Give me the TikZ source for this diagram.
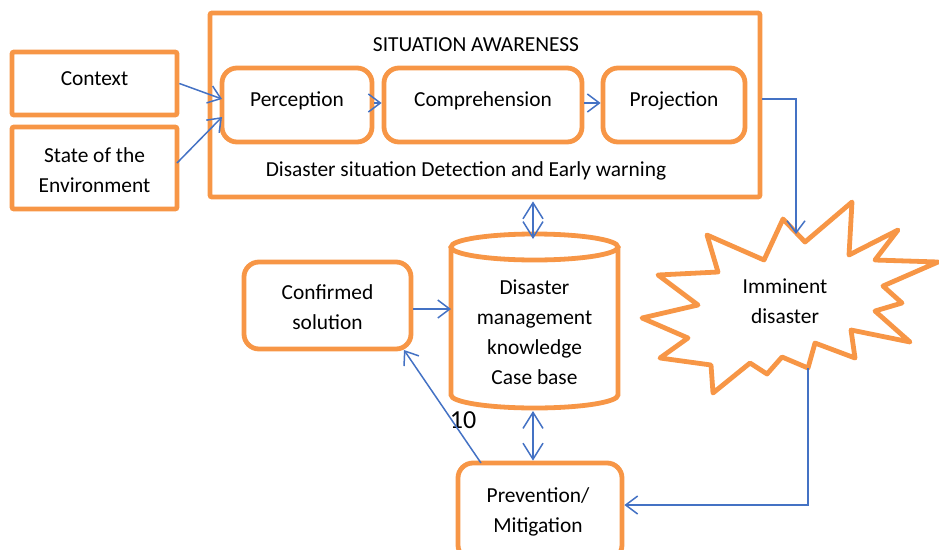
\documentclass[tikz,border=0pt]{standalone}
\usepackage{fontspec}
\setmainfont{Carlito}
\usetikzlibrary{arrows.meta,calc}
\definecolor{org}{RGB}{247,150,70}
\definecolor{blu}{RGB}{68,114,196}
\begin{document}
\begin{tikzpicture}[x=1pt,y=-1pt,
  sbox/.style={draw=org, line width=4.8pt, inner sep=0pt, rounded corners=2pt},
  rbox/.style={draw=org, line width=4.8pt, inner sep=0pt, rounded corners=15pt},
  txt/.style={align=center, font=\fontsize{21.4}{30}\selectfont, inner sep=0pt},
  arr/.style={blu, line width=1.5pt, -{Straight Barb[length=12pt,width=18pt]}},
  dbl/.style={blu, line width=1.5pt, {Straight Barb[length=16pt,width=20pt]}-{Straight Barb[length=16pt,width=20pt]}}]
\useasboundingbox (0,0) rectangle (939,549);
\clip (0,0) rectangle (939,549);

% outer situation awareness box
\node[sbox, minimum width=550pt, minimum height=184pt] (sa) at (485,105) {};
\node[txt, anchor=base] (satitle) at (476,51) {SITUATION AWARENESS};
\node[txt, anchor=base] (sadet) at (466,176) {Disaster situation Detection and Early warning};

% inner boxes
\node[rbox, minimum width=150pt, minimum height=74pt] (perc) at (297,105) {};
\node[rbox, minimum width=198pt, minimum height=74pt] (comp) at (483,105) {};
\node[rbox, minimum width=142pt, minimum height=74pt] (proj) at (674,105) {};
\node[txt, anchor=base] (perct) at (297,106) {Perception};
\node[txt, anchor=base] (compt) at (483,106) {Comprehension};
\node[txt, anchor=base] (projt) at (674,106) {Projection};

% left inputs
\node[sbox, minimum width=165pt, minimum height=63pt] (ctx) at (94.5,83.5) {};
\node[txt, anchor=base] (ctxt) at (94.5,85) {Context};
\node[sbox, minimum width=165pt, minimum height=82pt] (state) at (94.5,168) {};
\node[txt] (statet) at (94.5,170) {State of the\\Environment};

% knowledge base cylinder
\draw[draw=org, line width=4.8pt, fill=white] (451,247) -- (451,395)
  arc[start angle=180, end angle=0, x radius=83.5, y radius=13] -- (618,247);
\draw[draw=org, line width=4.8pt] (534.5,247) ellipse [x radius=83.5, y radius=13];
\node[txt] (kb) at (534.5,332) {Disaster\\management\\knowledge\\Case base};

% confirmed solution
\node[rbox, minimum width=167pt, minimum height=87pt] (conf) at (327.5,305.5) {};
\node[txt] (conft) at (327.5,307) {Confirmed\\solution};

% prevention
\node[rbox, minimum width=164pt, minimum height=97pt] (prev) at (540,511.5) {};
\node[txt] (prevt) at (538,511.5) {Prevention/\\Mitigation};

% imminent disaster star
\draw[draw=org, line width=4.8pt, line join=round, fill=white]
  (783,219) -- (805,242) -- (852,202) -- (849,255) -- (898,230) -- (875,260)
  -- (938,262) -- (883,286) -- (902,303) -- (875,311) -- (910,342) -- (851,330)
  -- (855,358) -- (815,343) -- (808,368) -- (782,357) -- (767,374) -- (750,363)
  -- (713,393) -- (711,365) -- (660,358) -- (688,338) -- (642,318) -- (698,305)
  -- (658,275) -- (718,272) -- (707,235) -- (764,260) -- cycle;
\node[txt] (imm) at (785,301.5) {Imminent\\disaster};

% label
\node[font=\fontsize{26}{30}\selectfont, inner sep=0pt, anchor=base] (ten) at (463,428) {10};

% connector end points
\coordinate (pin1) at (222,99);
\coordinate (pin2) at (222,117);
\coordinate (sout) at (177,163);
\coordinate (startip) at (796,234);
\coordinate (starbot) at (808,368);
\coordinate (kbtop) at (533,239);
\coordinate (kbbot) at (533,411);
\coordinate (kbleft) at (451,309);
\coordinate (pv1) at (481,463);
\coordinate (cf1) at (404,350);

% connectors
\draw[arr] (ctx.east) -- (pin1);
\draw[arr] (sout) -- (pin2);
\draw[arr] (perc.east |- 0,103) -- (comp.west |- 0,103);
\draw[arr] (comp.east |- 0,103) -- (proj.west |- 0,103);
\draw[arr] (sa.east |- 0,99) -| (startip);
\draw[arr] (starbot) |- (prev.east |- 0,505);
\draw[dbl] ($(sa.south -| kbtop)+(0,2)$) -- (kbtop);
\draw[dbl] (kbbot) -- (prev.north -| kbbot);
\draw[arr] (conf.east |- kbleft) -- (kbleft);
\draw[arr] (pv1) -- (cf1);
\end{tikzpicture}
\end{document}
